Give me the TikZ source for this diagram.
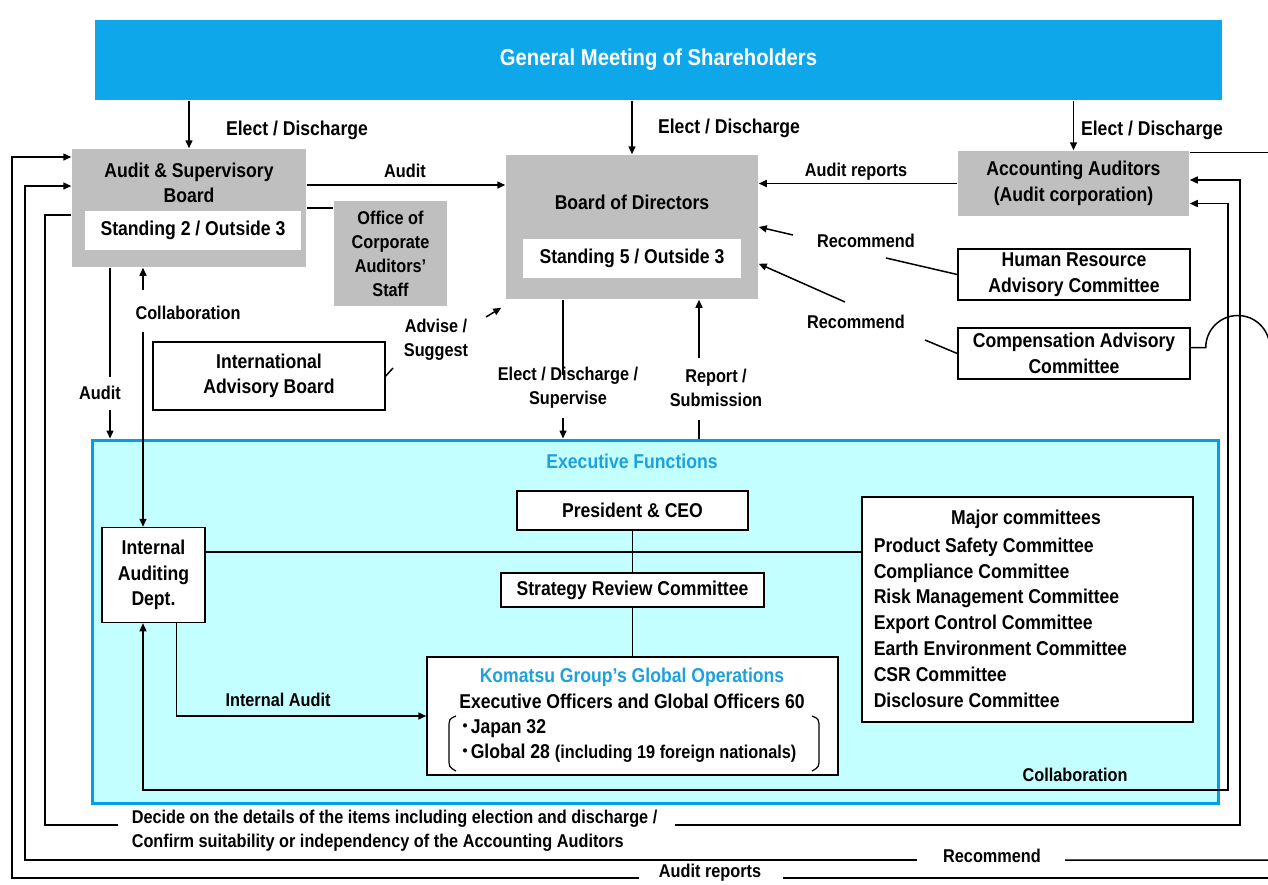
\documentclass[tikz,border=0pt]{standalone}
\usepackage{fontspec}
\setmainfont{Liberation Sans}[FakeStretch=0.88]
\newfontfamily\cjk{Noto Sans CJK JP}
\usetikzlibrary{arrows.meta}
\definecolor{bannerblue}{RGB}{14,168,234}
\definecolor{boxgray}{RGB}{191,191,191}
\definecolor{execfill}{RGB}{196,255,255}
\definecolor{execline}{RGB}{0,160,230}
\definecolor{titleblue}{RGB}{30,160,220}
\newcommand\bigfont{\fontsize{23}{28}\selectfont\bfseries}
\newcommand\boxfont{\fontsize{20}{25.5}\selectfont\bfseries}
\newcommand\lblfont{\fontsize{18.5}{24}\selectfont\bfseries}
\newcommand\listfont{\fontsize{20}{25.8}\selectfont\bfseries}

\begin{document}
\begin{tikzpicture}[
        x=1pt, y=-1pt, % one unit per pixel of the reference
        font=\boxfont,
        line width=1.5pt,
        >={Triangle[length=8pt,width=7pt]},
        graybox/.style={rectangle, fill=boxgray, inner sep=0pt, align=center},
        subbox/.style={rectangle, fill=white, inner sep=0pt},
        wbox/.style={rectangle, draw=black, fill=white, inner sep=0pt, align=center},
        txt/.style={align=center, inner sep=0pt},
        lbl/.style={font=\lblfont, align=center, inner sep=1pt}
    ]
    \useasboundingbox (0,0) rectangle (1268,884);
    \clip (0,0) rectangle (1268,884);
    \fill[white] (0,0) rectangle (1268,884);

    % Shareholders banner
    \node[rectangle, fill=bannerblue, text=white, font=\bigfont, minimum width=1127pt, minimum height=80pt] (gms) at (658.5,60) {General Meeting of Shareholders};

    % Audit & Supervisory Board and its staff
    \node[graybox, minimum width=234pt, minimum height=118pt] (asb) at (189,208) {};
    \node[txt] (asbt) at (189,183) {Audit \& Supervisory\\Board};
    \node[subbox, minimum width=216pt, minimum height=39pt] (asbs) at (193,230.5) {Standing 2 / Outside 3};
    \node[graybox, font=\lblfont, minimum width=113pt, minimum height=105pt] (office) at (390.5,253.5) {Office of\\Corporate\\Auditors'\\Staff};

    % Board of Directors
    \node[graybox, minimum width=252pt, minimum height=144pt] (bod) at (632,227) {};
    \node[txt] (bodt) at (632,202) {Board of Directors};
    \node[subbox, minimum width=218pt, minimum height=39pt] (bods) at (632,258.5) {Standing 5 / Outside 3};

    % Accounting Auditors and advisory bodies
    \node[graybox, minimum width=231pt, minimum height=65pt] (aa) at (1073.5,183.5) {Accounting Auditors\\(Audit corporation)};
    \node[wbox, minimum width=232pt, minimum height=51pt] (hr) at (1074,274.5) {Human Resource\\Advisory Committee};
    \node[wbox, minimum width=232pt, minimum height=51pt] (comp) at (1074,353.5) {Compensation Advisory\\Committee};
    \node[wbox, minimum width=232pt, minimum height=68pt] (iab) at (269,376) {International\\Advisory Board};

    % Executive functions frame
    \node[rectangle, draw=execline, fill=execfill, line width=3pt, minimum width=1126pt, minimum height=363pt] (exec) at (655,621.5) {};
    \node[txt, text=titleblue] (exect) at (632,461) {Executive Functions};
    \node[wbox, minimum width=231pt, minimum height=39pt] (ceo) at (632.5,510.5) {President \& CEO};
    \node[wbox, minimum width=263pt, minimum height=34pt] (src) at (632.5,590) {Strategy Review Committee};
    \node[wbox, minimum width=103pt, minimum height=95pt] (iad) at (153.5,575) {Internal\\Auditing\\Dept.};

    % Global operations
    \node[wbox, minimum width=411pt, minimum height=118pt] (kg) at (632.5,716) {};
    \node[txt, text=titleblue] (kgt) at (632,677) {Komatsu Group's Global Operations};
    \node[txt] (kge) at (632,701) {Executive Officers and Global Officers 60};
    \node[align=left, anchor=west, inner sep=0pt] (kgl) at (460,741) {{\cjk ･}Japan 32\\{\cjk ･}Global 28 {\lblfont (including 19 foreign nationals)}};
    \draw[line width=1.2pt] (456,716) .. controls (449,719) .. (449,729) -- (449,758) .. controls (449,767) .. (456,771);
    \draw[line width=1.2pt] (812,716) .. controls (819,719) .. (819,729) -- (819,758) .. controls (819,767) .. (812,771);

    % Major committees
    \node[wbox, minimum width=331pt, minimum height=225pt] (major) at (1027.5,609.5) {};
    \node[txt] (majort) at (1026,519) {Major committees};
    \node[align=left, anchor=west, inner sep=0pt, font=\listfont] (majorl) at (873,622.5) {Product Safety Committee\\Compliance Committee\\Risk Management Committee\\Export Control Committee\\Earth Environment Committee\\CSR Committee\\Disclosure Committee};

    % Labels
    \node[lbl, font=\boxfont] (ed1) at (297,130) {Elect / Discharge};
    \node[lbl, font=\boxfont] (ed2) at (729,128) {Elect / Discharge};
    \node[lbl, font=\boxfont] (ed3) at (1152,130) {Elect / Discharge};
    \node[lbl] (audl) at (405,171) {Audit};
    \node[lbl] (arl) at (856,172) {Audit reports};
    \node[lbl] (rec1) at (866,241) {Recommend};
    \node[lbl] (rec2) at (856,322) {Recommend};
    \node[lbl] (adv) at (436,340) {Advise /\\Suggest};
    \node[lbl] (audl2) at (100,393) {Audit};
    \node[lbl] (coll1) at (188,313) {Collaboration};
    \node[lbl] (eds) at (568,388) {Elect / Discharge /\\Supervise};
    \node[lbl] (rsub) at (716,388) {Report /\\Submission};
    \node[lbl] (ial) at (278,700) {Internal Audit};
    \node[lbl] (coll2) at (1075,775) {Collaboration};
    \node[lbl, align=left, anchor=west] (decide) at (130,830.5) {Decide on the details of the items including election and discharge /\\Confirm suitability or independency of the Accounting Auditors};
    \node[lbl] (rec3) at (992,856) {Recommend};
    \node[lbl] (arl2) at (710,873) {Audit reports};

    % From the general meeting
    \draw[->] (gms.south -| asb.north) -- (asb.north);
    \draw[->] (gms.south -| bod.north) -- (bod.north);
    \draw[->] (gms.south -| aa.north) -- (aa.north);

    % Between the boards
    \coordinate (asbA) at ([yshift=23pt]asb.east);
    \draw[->] (asbA) -- (asbA -| bod.west);
    \draw (asb.east) -- (asb.east -| office.west);
    \draw[->] (aa.west) -- (aa.west -| bod.east);

    % Recommendations and advice
    \coordinate (hrA) at (886,258);
    \coordinate (hrB) at (793,235);
    \draw (hr.west) -- (hrA);
    \draw[->] (hrB) -- (bod.east);
    \coordinate (compA) at (925,340);
    \coordinate (compB) at (845,302);
    \draw (comp.west) -- (compA);
    \draw[->] (compB) -- ([yshift=36pt]bod.south east);
    \coordinate (iabA) at (393,368);
    \coordinate (iabB) at (486,317);
    \draw (iab.east) -- (iabA);
    \draw[->] (iabB) -- ([shift={(-4pt,-8pt)}]bod.south west);

    % Audit and collaboration below the ASB
    \coordinate (asbD) at (110,377);
    \coordinate (asbE) at (110,410);
    \draw (asb.south -| asbD) -- (asbD);
    \draw[->] (asbE) -- (asbE |- exec.north);
    \coordinate (colA) at (143,290);
    \coordinate (colB) at (143,332);
    \draw[->] (colA) -- (colA |- asb.south);
    \draw[->] (colB) -- (colB |- iad.north);

    % Board and executive functions
    \coordinate (edsA) at (563,375);
    \coordinate (edsB) at (563,418);
    \draw (bod.south -| edsA) -- (edsA);
    \draw[->] (edsB) -- (edsB |- exec.north);
    \coordinate (rsA) at (699,420);
    \coordinate (rsB) at (699,358);
    \draw (rsA |- exec.north) -- (rsA);
    \draw[->] (rsB) -- (rsB |- bod.south);

    % Inside executive functions
    \draw (ceo.south) -- (src.north);
    \draw (src.south) -- (kg.north);
    \coordinate (iadA) at ([yshift=23pt]iad.east);
    \draw (iadA) -- (iadA -| major.west);
    \draw[->] ([xshift=23pt]iad.south) |- (kg.west);

    % Collaboration loop to the accounting auditors
    \coordinate (colC) at ([xshift=-10.5pt]iad.south);
    \coordinate (colD) at ([yshift=-20pt]aa.east);
    \coordinate (colE) at (1228,790);
    \draw[<->] (colC) |- (colE) |- (colD);

    % Decide loop
    \coordinate (decF) at ([yshift=-7pt]asb.west);
    \coordinate (decA) at (45,825);
    \coordinate (decB) at (118,825);
    \coordinate (decC) at (675,825);
    \coordinate (decD) at (1240,825);
    \coordinate (decE) at ([yshift=3.5pt]aa.east);
    \draw (decF) -| (decA) -- (decB);
    \draw[->] (decC) -- (decD) |- (decE);

    % Recommend loop with line hop
    \coordinate (recA) at ([yshift=22pt]asb.west);
    \coordinate (recB) at (25,860);
    \coordinate (recC) at (917,860);
    \coordinate (recD) at (1065,860);
    \coordinate (compE) at ([yshift=6pt]comp.east);
    \draw (compE) -- ++(15,0) arc[start angle=180, end angle=0, radius=32pt] -- ++(20,0) |- (recD);
    \draw[->] (recC) -- (recB) |- (recA);

    % Audit reports loop
    \coordinate (arA) at ([yshift=31pt]aa.east);
    \coordinate (arB) at (783,878);
    \coordinate (arC) at (639,878);
    \coordinate (arD) at (12,878);
    \coordinate (arE) at ([yshift=51pt]asb.west);
    \draw (arA) -- ++(100,0) |- (arB);
    \draw[->] (arC) -- (arD) |- (arE);

\end{tikzpicture}
\end{document}
